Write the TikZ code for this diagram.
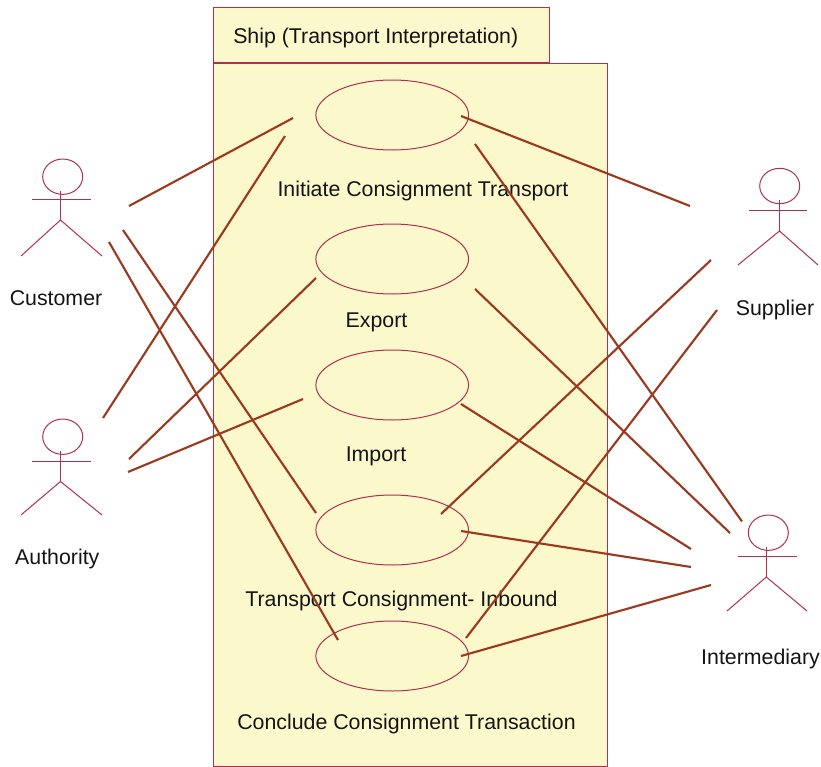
\documentclass[tikz,border=0pt]{standalone}
\usepackage{fontspec}
\setmainfont{Liberation Sans}
\usetikzlibrary{shapes.geometric}
\definecolor{umlborder}{HTML}{B03050}
\definecolor{umlfill}{HTML}{FBF8CC}
\definecolor{umlline}{HTML}{9B3A20}
\tikzset{
  pkg/.style={draw=umlborder,fill=umlfill,line width=0.75pt,inner sep=0pt},
  usecase/.style={ellipse,draw=umlborder,fill=umlfill,line width=0.75pt,minimum width=114.5pt,minimum height=52.5pt,inner sep=0pt},
  head/.style={ellipse,draw=umlborder,line width=0.75pt,minimum width=30pt,minimum height=26.5pt,inner sep=0pt},
  limb/.style={draw=umlborder,line width=0.75pt},
  assoc/.style={draw=umlline,line width=1.6pt},
  lbl/.style={font=\fontsize{16}{19}\selectfont,text=black!92,inner sep=0pt}
}
\begin{document}
\begin{tikzpicture}[x=0.75pt,y=-0.75pt]
\useasboundingbox (0,0) rectangle (821,767);
% package
\node[pkg,minimum width=252pt,minimum height=41.25pt,anchor=north west] (tab) at (212.5,7.5) {};
\node[pkg,minimum width=295.5pt,minimum height=526.5pt,anchor=north west] (body) at (212.5,63.5) {};
\node[lbl,anchor=west] (title) at (233,38) {Ship (Transport Interpretation)};
% use cases
\node[usecase] (uc1) at (392.2,115) {};
\node[usecase] (uc2) at (392.2,259) {};
\node[usecase] (uc3) at (392.2,385) {};
\node[usecase] (uc4) at (392.2,530) {};
\node[usecase] (uc5) at (392.2,656) {};
\node[lbl] (t1) at (423,190.5) {Initiate Consignment Transport};
\node[lbl] (t2) at (376.5,322) {Export};
\node[lbl] (t3) at (376,456) {Import};
\node[lbl] (t4) at (401.5,600.5) {Transport Consignment- Inbound};
\node[lbl] (t5) at (406.5,724) {Conclude Consignment Transaction};
% actors
\foreach \n/\hx/\hy/\px/\py/\al/\ar/\ay/\ll/\lr/\ly in {
  cust/62.7/176.7/60.5/220/32/91/199.3/21/102/256,
  auth/62.7/436.7/60.5/481.5/32/91/461/21/102/515,
  supp/779.7/186/779.5/231/749/807/210.7/738/818/265,
  inter/768.3/532.7/766.3/577/737.5/797/556.7/727/807/611}{
  \node[head] (\n) at (\hx,\hy) {};
  \coordinate (\n hip) at (\px,\py);
  \coordinate (\n neck) at (\px,\hy+14);
  \coordinate (\n al) at (\al,\ay);
  \coordinate (\n ar) at (\ar,\ay);
  \coordinate (\n ll) at (\ll,\ly);
  \coordinate (\n lr) at (\lr,\ly);
  \draw[limb] (\n neck) -- (\n hip);
  \draw[limb] (\n al) -- (\n ar);
  \draw[limb] (\n ll) -- (\n hip) -- (\n lr);
}
\node[lbl] (lc) at (56,298.5) {Customer};
\node[lbl] (la) at (57.3,559) {Authority};
\node[lbl] (ls) at (775,309.5) {Supplier};
\node[lbl] (li) at (760.5,658.5) {Intermediary};
% connector ends
\foreach \n/\x/\y in {c1/129/206,c2/123/230,c3/109/242,
  a1/103/418,a2/129/459,a3/128/472,
  s1/690/206,s2/711/260,s3/717/310,
  i1/742/521.5,i2/730/533,i3/691/549,i4/691/567,i5/711/585,
  u1a/293/118,u1b/285/136,u1c/461/116,u1d/475/144,
  u2a/316/278,u2b/475/289,
  u3a/303/399,u3b/461/404,
  u4a/316/513,u4b/441/514,u4c/461/531,
  u5a/338/640,u5b/466/638,u5c/461/656}
  {\coordinate (\n) at (\x,\y);}
\draw[assoc] (c1) -- (u1a);
\draw[assoc] (c2) -- (u4a);
\draw[assoc] (c3) -- (u5a);
\draw[assoc] (a1) -- (u1b);
\draw[assoc] (a2) -- (u2a);
\draw[assoc] (a3) -- (u3a);
\draw[assoc] (u1c) -- (s1);
\draw[assoc] (u4b) -- (s2);
\draw[assoc] (u5b) -- (s3);
\draw[assoc] (u1d) -- (i1);
\draw[assoc] (u2b) -- (i2);
\draw[assoc] (u3b) -- (i3);
\draw[assoc] (u4c) -- (i4);
\draw[assoc] (u5c) -- (i5);
\end{tikzpicture}
\end{document}
